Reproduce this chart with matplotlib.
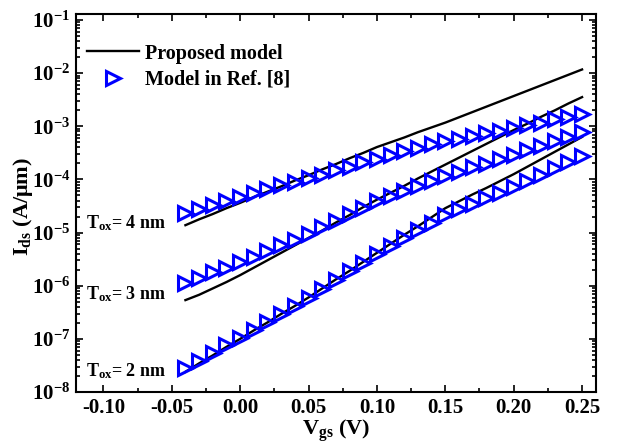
import numpy as np
import matplotlib
matplotlib.use("Agg")
import matplotlib.pyplot as plt
from matplotlib.ticker import FixedLocator, NullFormatter

plt.rcParams['font.family'] = ['Liberation Serif', 'DejaVu Serif']
plt.rcParams['font.weight'] = 'bold'
plt.rcParams['mathtext.fontset'] = 'custom'
plt.rcParams['mathtext.rm'] = 'Liberation Serif:bold'
plt.rcParams['mathtext.bf'] = 'Liberation Serif:bold'
plt.rcParams['mathtext.it'] = 'Liberation Serif:bold'

# Gate voltage (V)
vgs = [-0.04, -0.03, -0.02, -0.01, 0.00, 0.01, 0.02, 0.03, 0.04, 0.05,
       0.06, 0.07, 0.08, 0.09, 0.10, 0.11, 0.12, 0.13, 0.14, 0.15,
       0.16, 0.17, 0.18, 0.19, 0.20, 0.21, 0.22, 0.23, 0.24, 0.25]

# log10(Ids) - proposed model (lines)
prop_tox4 = [-4.86, -4.75, -4.65, -4.54, -4.44, -4.33, -4.23, -4.13, -4.02, -3.92,
             -3.81, -3.71, -3.60, -3.50, -3.39, -3.30, -3.21, -3.11, -3.02, -2.93,
             -2.83, -2.73, -2.63, -2.53, -2.43, -2.33, -2.23, -2.13, -2.03, -1.93]
prop_tox3 = [-6.27, -6.17, -6.05, -5.93, -5.80, -5.66, -5.52, -5.38, -5.24, -5.10,
             -4.96, -4.81, -4.67, -4.52, -4.38, -4.25, -4.12, -3.98, -3.85, -3.72,
             -3.59, -3.46, -3.33, -3.20, -3.07, -2.95, -2.82, -2.70, -2.57, -2.45]
prop_tox2 = [-7.62, -7.46, -7.31, -7.15, -7.00, -6.84, -6.69, -6.53, -6.38, -6.22,
             -6.05, -5.88, -5.72, -5.55, -5.38, -5.21, -5.04, -4.88, -4.71, -4.54,
             -4.41, -4.28, -4.16, -4.03, -3.90, -3.76, -3.62, -3.48, -3.34, -3.20]

# log10(Ids) - model in Ref. [8] (markers)
ref_tox4 = [-4.63, -4.55, -4.48, -4.40, -4.33, -4.25, -4.18, -4.11, -4.05, -3.98,
            -3.91, -3.83, -3.76, -3.68, -3.61, -3.54, -3.47, -3.41, -3.34, -3.28,
            -3.23, -3.18, -3.13, -3.09, -3.04, -2.98, -2.93, -2.87, -2.82, -2.76]
ref_tox3 = [-5.94, -5.85, -5.75, -5.66, -5.56, -5.45, -5.34, -5.24, -5.13, -5.02,
            -4.90, -4.78, -4.65, -4.53, -4.41, -4.31, -4.22, -4.12, -4.03, -3.93,
            -3.85, -3.77, -3.70, -3.62, -3.54, -3.45, -3.37, -3.28, -3.20, -3.11]
ref_tox2 = [-7.55, -7.41, -7.27, -7.12, -6.98, -6.83, -6.68, -6.53, -6.38, -6.23,
            -6.06, -5.90, -5.73, -5.57, -5.40, -5.25, -5.11, -4.96, -4.82, -4.67,
            -4.56, -4.46, -4.35, -4.25, -4.14, -4.02, -3.91, -3.79, -3.68, -3.56]

x_ticks = [-0.10, -0.05, 0.00, 0.05, 0.10, 0.15, 0.20, 0.25]
y_exponents = [-8, -7, -6, -5, -4, -3, -2, -1]
tox_labels = ["4", "3", "2"]

fig = plt.figure(figsize=(6.18, 4.44), dpi=100)
ax = fig.add_axes([0.123, 0.117, 0.841, 0.851])

x = np.array(vgs)
lines = [prop_tox4, prop_tox3, prop_tox2]
marks = [ref_tox4, ref_tox3, ref_tox2]
for i, (ln, mk) in enumerate(zip(lines, marks)):
    ax.plot(x, 10 ** np.array(ln), color='black', lw=1.7,
            label='Proposed model' if i == 0 else None, zorder=2)
    ax.plot(x, 10 ** np.array(mk), ls='none', marker='>', ms=10, mfc='none',
            mec='#0000ff', mew=2.2, label='Model in Ref. [8]' if i == 0 else None, zorder=3)

ax.set_yscale('log')
ax.set_xlim(-0.12, 0.26)
ax.set_ylim(1e-8, 10 ** -0.89)

ax.xaxis.set_major_locator(FixedLocator(x_ticks))
ax.xaxis.set_minor_locator(FixedLocator([-0.075, -0.025, 0.025, 0.075, 0.125, 0.175, 0.225]))
ax.xaxis.set_minor_formatter(NullFormatter())
ax.set_xticklabels([f"{t:.2f}" for t in x_ticks])

ax.yaxis.set_major_locator(FixedLocator([10.0 ** e for e in y_exponents]))
minor_y = [m * 10.0 ** e for e in y_exponents[:-1] for m in range(2, 10)]
ax.yaxis.set_minor_locator(FixedLocator(minor_y))
ax.yaxis.set_minor_formatter(NullFormatter())
ax.set_yticklabels([r'$\mathbf{10^{%d}}$' % e for e in y_exponents])

ax.tick_params(which='both', direction='in', top=True, right=True, labelsize=15, width=1.2)
ax.tick_params(which='major', length=5, pad=4)
ax.tick_params(which='minor', length=3)
for lbl in ax.get_xticklabels():
    lbl.set_fontweight('bold')
for s in ax.spines.values():
    s.set_linewidth(1.5)

ax.set_xlabel(r'$\mathbf{V_{gs}}$ (V)', fontsize=16, fontweight='bold', labelpad=0)
ax.set_ylabel(r'$\mathbf{I_{ds}}$ (A/$\mathbf{\mu}$m)', fontsize=16, fontweight='bold')
ax.yaxis.set_label_coords(-0.079, 0.49)

label_y = [10 ** -4.91, 10 ** -6.25, 10 ** -7.70]
for t, yy in zip(tox_labels, label_y):
    ax.text(-0.113, yy, r'$\mathbf{T_{ox}}$= ' + t + ' nm', fontsize=13, fontweight='bold',
            ha='left', va='baseline')

leg = ax.legend(loc='upper left', bbox_to_anchor=(-0.01, 0.965), frameon=False, fontsize=14.5,
                handlelength=2.6, handletextpad=0.3, borderaxespad=0.4, labelspacing=0.3)
for txt in leg.get_texts():
    txt.set_fontweight('bold')

fig.savefig('out.png', dpi=100)
